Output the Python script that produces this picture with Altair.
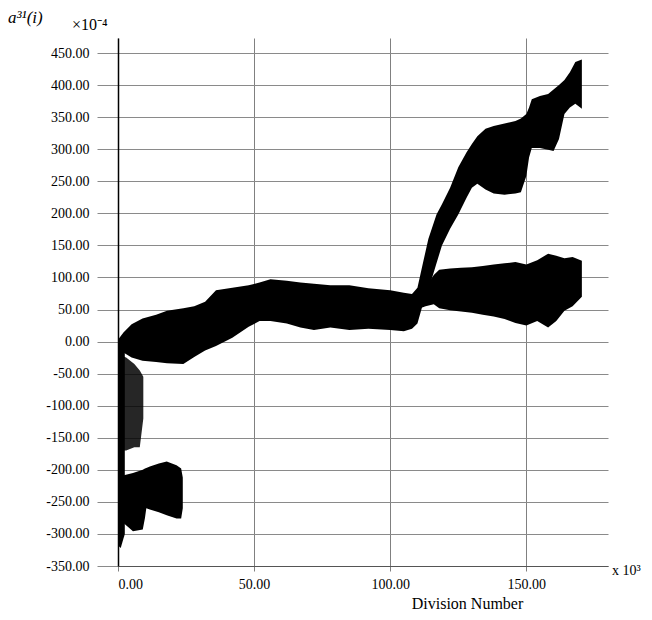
import altair as alt
import pandas as pd

# ---- data (x in units of 10^3, y in units of 10^-4) ----
x_ticks = [0, 50, 100, 150]
y_ticks = [-350, -300, -250, -200, -150, -100, -50, 0, 50, 100, 150, 200, 250, 300, 350, 400, 450]

# main band (rises through the jump to the upper branch)
main_x = [0, 2, 5, 9, 14, 18, 24, 28, 32, 36, 42, 48, 52, 56, 62, 67, 72, 78, 85, 92, 100, 105, 108,
          110, 112, 114, 117, 119, 122, 125, 128, 130, 132, 135, 138, 142, 146, 148, 150, 151, 152,
          155, 158, 160, 162, 164, 166, 168, 170.4]
main_hi = [3, 14, 27, 36, 42, 48, 52, 55, 62, 80, 84, 88, 92, 97, 95, 92, 90, 88, 88, 83, 80, 76, 74,
           84, 122, 160, 198, 214, 240, 272, 295, 308, 320, 332, 336, 340, 344, 348, 355, 365, 378,
           383, 386, 393, 400, 408, 420, 436, 440]
main_lo = [-10, -17, -25, -30, -32, -34, -35, -24, -14, -7, 6, 23, 32, 32, 28, 22, 18, 22, 18, 20, 18, 16, 20,
           28, 58, 80, 122, 150, 176, 198, 224, 240, 246, 237, 231, 229, 231, 233, 258, 287, 302,
           302, 299, 297, 316, 355, 365, 371, 363]

# lower branch after the split
low_x = [111, 113, 116, 118, 122, 126, 130, 134, 138, 142, 146, 150, 154, 158, 161, 164, 167, 170.4]
low_hi = [72, 84, 104, 112, 114, 115, 116, 118, 120, 122, 124, 120, 127, 137, 134, 130, 132, 126]
low_lo = [52, 55, 58, 52, 49, 47, 45, 42, 39, 35, 29, 25, 32, 22, 32, 48, 55, 70]

# initial vertical strip at the start
strip_x = [0, 1, 2.5]
strip_hi = [0, -5, -15]
strip_lo = [-318, -322, -300]

# speckled region just below zero at the start
spot_x = [0, 3, 6, 8, 9.3]
spot_hi = [-20, -25, -35, -45, -55]
spot_lo = [-170, -170, -165, -165, -120]

# lower blob
blob_x = [0.7, 1.8, 5.5, 9.1, 9.9, 10.4, 11.7, 15, 17.9, 21.5, 23.2, 23.8]
blob_hi = [-225, -209, -205, -200, -198, -197, -195, -190, -187, -193, -198, -212]
blob_lo = [-270, -282, -296, -293, -275, -260, -262, -266, -271, -276, -276, -260]

segments = {
    "main": (main_x, main_hi, main_lo, 1.0),
    "low": (low_x, low_hi, low_lo, 1.0),
    "strip": (strip_x, strip_hi, strip_lo, 1.0),
    "blob": (blob_x, blob_hi, blob_lo, 1.0),
    "spot": (spot_x, spot_hi, spot_lo, 0.85),
}
rows = []
for name, (xs, his, los, op) in segments.items():
    for xv, h, l in zip(xs, his, los):
        rows.append({"seg": name, "x": xv, "hi": h, "lo": l, "op": op})
df = pd.DataFrame(rows)

SERIF = "Liberation Serif"
xscale = alt.Scale(domain=[0, 180], nice=False, zero=False)
yscale = alt.Scale(domain=[-350, 473.4], nice=False, zero=False)

xaxis = alt.Axis(values=x_ticks, format=".2f", grid=True, gridColor="#808080", gridWidth=1,
                 domainColor="#555555", domainWidth=1, tickColor="#808080", tickSize=5,
                 labelPadding=6, labelFont=SERIF, labelFontSize=14, labelColor="black",
                 labelOverlap=False,
                 title="Division Number", titleFont=SERIF, titleFontSize=16,
                 titleFontWeight="normal", titleColor="black", titleX=349, titleY=45,
                 titleBaseline="bottom", titleAlign="center")
yaxis = alt.Axis(values=y_ticks, format=".2f", grid=True, gridColor="#8a8a8a", gridWidth=1,
                 domainColor="black", domainWidth=1.5, tickColor="#8a8a8a", tickSize=21,
                 labelPadding=8, labelFont=SERIF, labelFontSize=14, labelColor="black",
                 labelOverlap=False, labelBound=False,
                 labelExpr="replace(datum.label, '\u2212', '-')", title="")

base = alt.Chart(df).mark_area(color="black").encode(
    x=alt.X("x:Q", scale=xscale, axis=xaxis),
    y=alt.Y("hi:Q", scale=yscale, axis=yaxis),
    y2="lo:Q",
    detail="seg:N",
    opacity=alt.Opacity("op:Q", scale=None, legend=None),
)

t1 = alt.Chart(pd.DataFrame({"t": ["a\u00b3\u00b9(i)"]})).mark_text(
    font=SERIF, fontSize=17, fontStyle="italic", align="left", baseline="middle", color="black"
).encode(x=alt.value(-110), y=alt.value(-20), text="t:N")
t2 = alt.Chart(pd.DataFrame({"t": ["\u00d710\u207b\u2074"]})).mark_text(
    font=SERIF, fontSize=16, align="left", baseline="middle", color="black"
).encode(x=alt.value(-46), y=alt.value(-13), text="t:N")
t3 = alt.Chart(pd.DataFrame({"t": ["x 10\u00b3"]})).mark_text(
    font=SERIF, fontSize=14, align="left", baseline="middle", color="black"
).encode(x=alt.value(494), y=alt.value(533), text="t:N")

chart = alt.layer(base, t1, t2, t3).properties(
    width=490, height=528,
    autosize=alt.AutoSizeParams(type="none"),
    padding={"left": 110, "top": 30, "right": 36, "bottom": 46},
).configure_view(strokeWidth=0)

chart.save("out.html", embed_options={"renderer": "svg", "actions": False})
